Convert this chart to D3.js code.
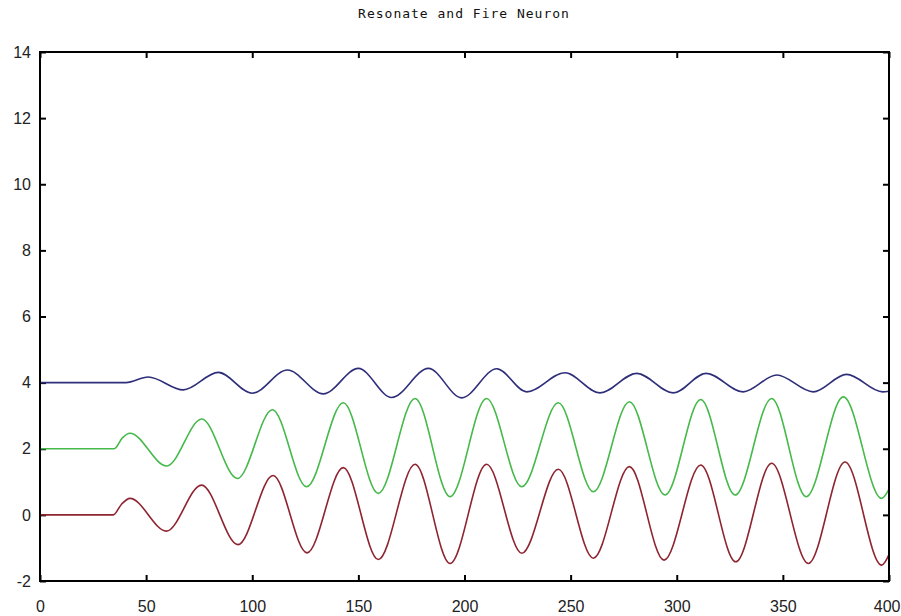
<!DOCTYPE html>
<html>
<head>
<meta charset="utf-8">
<script src="https://cdn.jsdelivr.net/npm/d3@7"></script>
<style>
  body { margin: 0; background: #fff; }
  svg { display: block; }
</style>
</head>
<body>
<script>
// tick values
const xTicks = [0, 50, 100, 150, 200, 250, 300, 350, 400];
const yTicks = [-2, 0, 2, 4, 6, 8, 10, 12, 14];

// curves, read point by point (peaks, troughs, start) from the picture
const redSeries = [
  [0, 0], [34.5, 0], [38.5, 0.33], [42.4, 0.5], [59.6, -0.49], [76.1, 0.9],
  [93.3, -0.9], [109.8, 1.19], [125.8, -1.15], [142.9, 1.43], [159.4, -1.35],
  [176.7, 1.53], [193.2, -1.47], [210.4, 1.53], [227, -1.16], [244.2, 1.38],
  [260.7, -1.31], [277.7, 1.46], [294, -1.37], [311.3, 1.51], [327.8, -1.42],
  [344.7, 1.56], [362, -1.47], [379.3, 1.6], [396.5, -1.52], [400, -1.2]
];
const greenSeries = [
  [0, 2], [35, 2], [38.8, 2.33], [42.4, 2.47], [59.7, 1.48], [76.2, 2.9],
  [93, 1.1], [109.5, 3.18], [125.6, 0.85], [142.9, 3.39], [159.4, 0.65],
  [176.7, 3.52], [193.2, 0.55], [210.4, 3.52], [227, 0.85], [244.2, 3.39],
  [260.7, 0.7], [277.7, 3.42], [294.5, 0.6], [311.3, 3.49], [327.5, 0.6],
  [344.7, 3.52], [361, 0.55], [378.5, 3.57], [396.5, 0.5], [400, 0.78]
];
const blueSeries = [
  [0, 4], [40.5, 4], [51, 4.17], [67.5, 3.78], [84, 4.31], [100, 3.68],
  [116.6, 4.38], [133.5, 3.66], [150, 4.43], [165.7, 3.55], [183, 4.43],
  [198.7, 3.54], [215.2, 4.42], [229.3, 3.72], [247.3, 4.3], [263.8, 3.69],
  [281.1, 4.28], [298.4, 3.69], [313.8, 4.28], [331.3, 3.72], [347.1, 4.23],
  [364.3, 3.72], [380, 4.25], [397, 3.72], [400, 3.74]
];

const W = 901, H = 616;
const plotL = 40, plotR = 889, plotT = 52, plotB = 581;

const svg = d3.select('body').append('svg')
  .attr('width', W)
  .attr('height', H);

const x = d3.scaleLinear().domain([0, 400]).range([plotL, plotR]);
const y = d3.scaleLinear().domain([-2, 14]).range([plotB, plotT]);

// title
svg.append('text')
  .attr('x', 464)
  .attr('y', 18)
  .attr('text-anchor', 'middle')
  .style('font-family', 'DejaVu Sans Mono, monospace')
  .style('font-size', '13px')
  .style('letter-spacing', '1px')
  .style('fill', '#111')
  .text('Resonate and Fire Neuron');

// axes: ticks point inward, gnuplot style
const labelFont = g => g.selectAll('text')
  .style('font-family', 'Liberation Sans, Arial, sans-serif')
  .style('font-size', '16px')
  .style('fill', '#222');

const tickStyle = g => {
  g.select('.domain').remove();
  g.selectAll('line').attr('stroke', '#000').attr('stroke-width', 2);
};

const plain = d => String(d); // keep the hyphen minus of the original

const xAxisG = svg.append('g')
  .attr('transform', `translate(0,${plotB})`)
  .call(d3.axisBottom(x).tickValues(xTicks).tickSize(-6).tickPadding(20).tickFormat(plain))
  .call(tickStyle).call(labelFont);

// last label sits against the right edge of the page
xAxisG.selectAll('.tick text')
  .filter(d => d === 400)
  .attr('text-anchor', 'end')
  .attr('x', W - 1 - plotR);

svg.append('g')
  .attr('transform', `translate(0,${plotT})`)
  .call(d3.axisTop(x).tickValues(xTicks).tickSize(-6).tickFormat(''))
  .call(tickStyle);

svg.append('g')
  .attr('transform', `translate(${plotL},0)`)
  .call(d3.axisLeft(y).tickValues(yTicks).tickSize(-6).tickPadding(9).tickFormat(plain))
  .call(tickStyle).call(labelFont);

svg.append('g')
  .attr('transform', `translate(${plotR},0)`)
  .call(d3.axisRight(y).tickValues(yTicks).tickSize(-6).tickFormat(''))
  .call(tickStyle);

// lines
const line = d3.line()
  .x(d => x(d[0]))
  .y(d => y(d[1]))
  .curve(d3.curveMonotoneX);

const series = [
  { data: blueSeries, color: '#2e2e7a' },
  { data: greenSeries, color: '#45b94a' },
  { data: redSeries, color: '#8e2430' }
];

svg.selectAll('path.series')
  .data(series)
  .enter()
  .append('path')
  .attr('class', 'series')
  .attr('d', d => line(d.data))
  .attr('fill', 'none')
  .attr('stroke', d => d.color)
  .attr('stroke-width', 1.6);

// frame
svg.append('rect')
  .attr('x', plotL)
  .attr('y', plotT)
  .attr('width', plotR - plotL)
  .attr('height', plotB - plotT)
  .attr('fill', 'none')
  .attr('stroke', '#000')
  .attr('stroke-width', 2);
</script>
</body>
</html>
